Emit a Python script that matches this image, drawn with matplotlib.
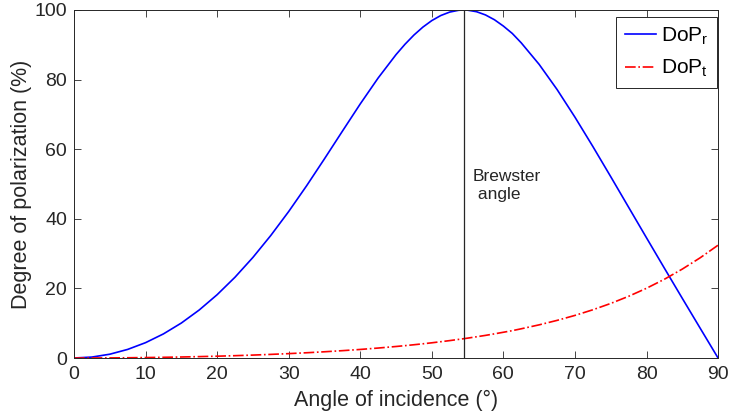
import numpy as np
import matplotlib
matplotlib.use("Agg")
import matplotlib.pyplot as plt

plt.rcParams['font.family'] = ['Liberation Sans', 'DejaVu Sans']
plt.rcParams['mathtext.fontset'] = 'custom'
plt.rcParams['mathtext.rm'] = 'Liberation Sans'
plt.rcParams['mathtext.it'] = 'Liberation Sans'

# angle of incidence (deg)
ANGLES = [0, 2.5, 5, 7.5, 10, 12.5, 15, 17.5, 20, 22.5, 25, 27.5, 30, 32.5, 35,
          37.5, 40, 42.5, 45, 46.25, 47.5, 48.75, 50, 51.25, 52.5, 53.75, 54.46,
          55, 56.25, 57.5, 58.75, 60, 61.25, 62.5, 65, 67.5, 70, 72.5, 75, 77.5,
          80, 82.5, 85, 87.5, 90]
# degree of polarization, reflected (%)
DOP_R = [0, 0.27, 1.09, 2.47, 4.41, 6.93, 10.05, 13.80, 18.19, 23.22, 28.90,
         35.21, 42.09, 49.48, 57.24, 65.16, 73.01, 80.46, 87.18, 90.15, 92.80,
         95.08, 96.96, 98.41, 99.40, 99.92, 100.0, 99.95, 99.51, 98.58, 97.20,
         95.38, 93.25, 90.55, 84.37, 77.16, 69.21, 60.79, 52.11, 43.32, 34.54,
         25.81, 17.15, 8.56, 0]
# degree of polarization, transmitted (%)
DOP_T = [0, 0.01, 0.03, 0.07, 0.13, 0.20, 0.29, 0.40, 0.52, 0.67, 0.84, 1.04,
         1.26, 1.51, 1.79, 2.11, 2.46, 2.86, 3.31, 3.55, 3.81, 4.08, 4.37, 4.68,
         5.00, 5.35, 5.55, 5.71, 6.10, 6.50, 6.94, 7.40, 7.86, 8.40, 9.53,
         10.81, 12.24, 13.86, 15.68, 17.73, 20.04, 22.63, 25.55, 28.80, 32.42]
BREWSTER = 54.46

fig = plt.figure(figsize=(7.29, 4.20), dpi=100)
ax = fig.add_axes([0.1015, 0.1476, 0.8835, 0.8286])

ax.plot(ANGLES, DOP_R, color='#0000ff', lw=1.2, label=r'DoP$_\mathrm{r}$')
ax.plot(ANGLES, DOP_T, color='#ff0000', lw=1.2, ls='-.', label=r'DoP$_\mathrm{t}$')
ax.axvline(BREWSTER, color='#262626', lw=0.9)
ax.text(55.7, 49.7, 'Brewster\n angle', fontsize=12.5, ha='left', va='center',
        color='#262626', linespacing=1.25)

ax.set_xlim(0, 90)
ax.set_ylim(0, 100)
ax.set_xticks(np.arange(0, 91, 10))
ax.set_yticks(np.arange(0, 101, 20))
ax.tick_params(direction='in', top=True, right=True, labelsize=14,
               colors='#262626', length=5, width=0.6, pad=5)
ax.tick_params(axis='x', pad=6)
for s in ax.spines.values():
    s.set_color('#262626')
    s.set_linewidth(0.7)
ax.set_xlabel('Angle of incidence (°)', fontsize=15.5, color='#262626', labelpad=5)
ax.set_ylabel('Degree of polarization (%)', fontsize=15.5, color='#262626', labelpad=2)

leg = ax.legend(loc='upper right', bbox_to_anchor=(0.998, 0.98), fontsize=15,
                fancybox=False, framealpha=1, edgecolor='#262626',
                borderaxespad=0.0, handlelength=1.5, handletextpad=0.25,
                borderpad=0.4, labelspacing=0.55)
leg.get_frame().set_linewidth(0.7)

fig.savefig('out.png', dpi=100)
